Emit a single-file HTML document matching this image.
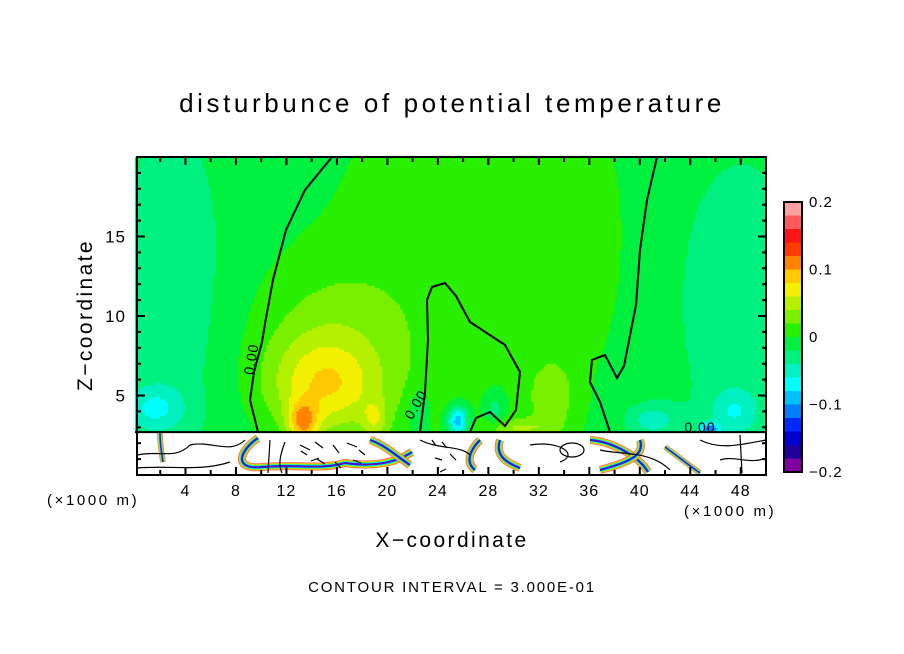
<!DOCTYPE html>
<html><head><meta charset="utf-8">
<style>
body{margin:0;background:#fff;}
svg{display:block;font-family:"Liberation Sans",sans-serif;}
</style></head>
<body>
<svg id="chart" width="904" height="654" viewBox="0 0 904 654">
<text x="452" y="112" text-anchor="middle" font-size="26" letter-spacing="3.6">disturbunce of potential temperature</text>
<g id="field"></g>
<g id="lower"></g>
<g id="contours" fill="none" stroke="#000" stroke-width="2"></g>
<g id="axes"></g>
<g id="cbar"></g>
<text x="47" y="505" font-size="15" letter-spacing="2.6">(×1000 m)</text>
<text x="684" y="516" font-size="15" letter-spacing="2.6">(×1000 m)</text>
<text x="452" y="547" text-anchor="middle" font-size="21" letter-spacing="2.4">X−coordinate</text>
<text transform="translate(92,315) rotate(-90)" text-anchor="middle" font-size="21" letter-spacing="2.4">Z−coordinate</text>
<text x="452" y="592" text-anchor="middle" font-size="15" letter-spacing="1.8">CONTOUR INTERVAL = 3.000E-01</text>
</svg>
<script>
// ---- data ----
const levelColors=['#ffa0a0','#ff5a5a','#ff1414','#ff3c00','#ff8200','#ffc800','#f0f000','#b4f000','#78f000','#28f000','#00f040','#00f080','#00f0c0','#00ffff','#00c0ff','#0080ff','#0028ff','#0000d0','#2000a0','#8000a0'];
const levelTicks=[0.2,0.1,0,-0.1,-0.2];
const xTicks=[4,8,12,16,20,24,28,32,36,40,44,48];
const zTicks=[5,10,15];
const baseValue=-0.012;
const blobX  =[24,  35,  3,   48,   15,  15,  13.3, 19,  33,  30,  25.6, 1.5,  45.5, 41,   47.5, 22.5, 28.5, 29];
const blobZ  =[13,  15,  12,  11,   5.5, 8.5, 3.3,  3.5, 4.8, 3.0, 3.4,  4.2,  2.9,  3.5,  4.0,  4.0,  4.0,  18];
const blobAmp=[0.024,0.02,-0.022,-0.02,0.065,0.032,0.08,0.04,0.035,0.04,-0.1,-0.045,-0.09,-0.04,-0.04,-0.03,-0.03,0.006];
const blobSX =[10,  4,   4,   5,    4.5, 6,   1.2,  1,   2,   3,   0.8,  2.5,  0.8,  2,    2,    0.8,  0.8,  6];
const blobSZ =[14,  9,   10,  9,    3,   5,   1.3,  1.2, 2.5, 0.6, 0.9,  1.5,  0.4,  1,    1.5,  1.5,  1.2,  6];
// ---- scales ----
const X=x=>135+x*12.62, Z=z=>475-z*15.9;
const NS='http://www.w3.org/2000/svg';
function mk(tag,attrs,parent){const e=document.createElementNS(NS,tag);for(const k in attrs)e.setAttribute(k,attrs[k]);parent.appendChild(e);return e;}
function val(x,z){let v=baseValue;for(let i=0;i<blobX.length;i++){const dx=(x-blobX[i])/blobSX[i],dz=(z-blobZ[i])/blobSZ[i];v+=blobAmp[i]*Math.exp(-dx*dx-dz*dz);}return v;}
function idx(v){let k=Math.floor((0.2-v)/0.02);return Math.max(0,Math.min(19,k));}
const field=document.getElementById('field');
const zBottom=2.7,NX=250,NZ=116;
const dx=50/NX,dz=(20-zBottom)/NZ;
for(let j=0;j<NZ;j++){
  const z=zBottom+j*dz;
  let runStart=0,runIdx=idx(val(dx/2,z+dz/2));
  for(let i=1;i<=NX;i++){
    const x=i*dx;
    const k=i<NX?idx(val(x+dx/2,z+dz/2)):-1;
    if(k!==runIdx){
      const r=mk('rect',{x:X(runStart).toFixed(1),y:Z(z+dz).toFixed(1),width:(X(x)-X(runStart)+0.6).toFixed(1),height:(Z(z)-Z(z+dz)+0.6).toFixed(1),fill:levelColors[runIdx]},field);
      
      
      runStart=x;runIdx=k;
    }
  }
}
// lower region
const lower=document.getElementById('lower');
mk('rect',{x:X(0),y:Z(zBottom),width:X(50)-X(0),height:Z(0)-Z(zBottom),fill:'#fff'},lower);
const bands=[
 'M258,438 C240,450 232,470 262,467 C300,464 320,470 345,463 C380,468 400,460 412,452',
 'M370,440 C385,445 395,455 410,465',
 'M480,440 C470,450 465,462 475,470',
 'M500,440 C495,455 505,462 520,468',
 'M590,440 C615,442 640,458 648,472',
 'M640,440 C645,455 630,462 600,470',
 'M665,447 C680,458 690,466 700,473',
 'M160,433 C160,445 162,455 163,462'
];
const bandColors=['#ff5a5a','#ffc800','#78f000','#00ffff','#0028ff','#8000a0'];
const bandW=[8,6.5,5,3.5,2.2,1];
bands.forEach((d,bi)=>{bandColors.forEach((c,i)=>{const p=mk('path',{d:d,fill:'none',stroke:c,'stroke-width':bandW[i]*(bi>5?0.7:1)},lower);});});
const squig=['M137,455 C160,450 175,460 190,445 C210,440 230,455 245,440','M137,468 C170,465 200,472 230,462','M420,440 C440,450 460,445 470,455',
'M300,445 l10,5 m5,-8 l8,6 m10,-3 l6,8 m8,-10 l10,4 m-40,12 l8,5 m10,-2 l6,6 m12,-8 l8,3 m-60,-12 l6,4 m4,6 l8,-3 m40,-8 l6,5',
'M270,440 L268,473','M285,442 C280,455 278,465 282,473','M432,440 l4,6 m6,-4 l5,6 m-12,10 l7,2 m8,-6 l6,6 m-16,12 l6,-3',
'M530,445 C560,440 580,455 560,462','M700,440 C720,450 740,445 766,440','M720,460 C735,455 750,465 766,458','M560,450 a12,7 0 1,0 24,0 a12,7 0 1,0 -24,0','M740,435 L742,473','M600,450 C620,455 650,450 670,470'];
squig.forEach(d=>{const p=mk('path',{d:d,fill:'none',stroke:'#000','stroke-width':1.2},lower);});
mk('line',{x1:X(0),y1:Z(zBottom),x2:X(50),y2:Z(zBottom),stroke:'#000','stroke-width':2},lower);
// zero contours
const cg=document.getElementById('contours');
[['M258,432 L250,400 L254,372 L262,342 L266,318 L273,280 L286,230 L305,190 L332,157','left-zero-contour'],
 ['M420,432 L425,392 L428,340 L427,300 L432,287 L445,283 L456,296 L470,322 L505,345 L520,372 L516,410 L505,426 L490,412 L476,418 L470,432','middle-zero-contour'],
 ['M610,432 L600,402 L590,382 L592,360 L605,355 L617,378 L624,366 L636,305 L640,250 L647,200 L657,157','right-zero-contour']
].forEach(([d,n])=>{const p=mk('path',{d:d},cg);});
const lbls=[[256,360,-80],[420,407,-60],[700,432,0]];
lbls.forEach(([x,y,r])=>{const t=mk('text',{x:x,y:y,transform:`rotate(${r},${x},${y})`,'text-anchor':'middle','font-size':14,'letter-spacing':1,fill:'#000',stroke:'none'},cg);t.textContent='0.00';});
// axes
const ax=document.getElementById('axes');
mk('rect',{x:X(0)+2,y:Z(20),width:X(50)-X(0)-2,height:Z(0)-Z(20),fill:'none',stroke:'#000','stroke-width':2},ax);
for(let x=1;x<50;x++){const L=x%4===0?8:(x%2===0?5:0);if(!L)continue;
 mk('line',{x1:X(x),y1:Z(0),x2:X(x),y2:Z(0)-L,stroke:'#000','stroke-width':2},ax);
 mk('line',{x1:X(x),y1:Z(20),x2:X(x),y2:Z(20)+L,stroke:'#000','stroke-width':2},ax);}
for(let z=1;z<20;z++){const L=z%5===0?8:4;
 mk('line',{x1:X(0)+2,y1:Z(z),x2:X(0)+2+L,y2:Z(z),stroke:'#000','stroke-width':2},ax);
 mk('line',{x1:X(50),y1:Z(z),x2:X(50)-L,y2:Z(z),stroke:'#000','stroke-width':2},ax);}
xTicks.forEach(v=>{const t=mk('text',{x:X(v),y:496,'text-anchor':'middle','font-size':16,'letter-spacing':1},ax);t.textContent=v;});
zTicks.forEach(v=>{const t=mk('text',{x:126,y:Z(v)+6,'text-anchor':'end','font-size':17,'letter-spacing':1},ax);t.textContent=v;});
// colorbar
const cb=document.getElementById('cbar');
const cbTop=202,cbBot=472,cbH=(cbBot-cbTop)/levelColors.length;
levelColors.forEach((c,i)=>{const r=mk('rect',{x:784,y:cbTop+i*cbH,width:18,height:cbH+0.5,fill:c},cb);});
mk('rect',{x:784,y:cbTop,width:18,height:cbBot-cbTop,fill:'none',stroke:'#000','stroke-width':2},cb);
levelTicks.forEach(v=>{const y=cbTop+(0.2-v)/0.4*(cbBot-cbTop);const t=mk('text',{x:809,y:y+5,'font-size':15,'letter-spacing':1},cb);t.textContent=v===0?'0':(v<0?'−'+Math.abs(v):String(v));});
</script>
</body></html>
